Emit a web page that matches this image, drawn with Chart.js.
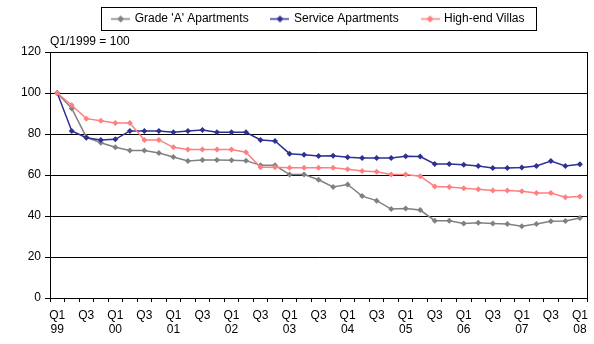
<!DOCTYPE html>
<html>
<head>
<meta charset="utf-8">
<script src="https://cdn.jsdelivr.net/npm/chart.js@4"></script>
<style>
  body { margin: 0; background: #fff; }
  #wrap { width: 594px; height: 344px; }
</style>
</head>
<body>
<div id="wrap"><canvas id="chart" width="594" height="344"></canvas></div>
<script>
const quarters = [
  'Q1 99', 'Q2 99', 'Q3 99', 'Q4 99',
  'Q1 00', 'Q2 00', 'Q3 00', 'Q4 00',
  'Q1 01', 'Q2 01', 'Q3 01', 'Q4 01',
  'Q1 02', 'Q2 02', 'Q3 02', 'Q4 02',
  'Q1 03', 'Q2 03', 'Q3 03', 'Q4 03',
  'Q1 04', 'Q2 04', 'Q3 04', 'Q4 04',
  'Q1 05', 'Q2 05', 'Q3 05', 'Q4 05',
  'Q1 06', 'Q2 06', 'Q3 06', 'Q4 06',
  'Q1 07', 'Q2 07', 'Q3 07', 'Q4 07',
  'Q1 08'
];
const gradeA = [100, 92.5, 78.5, 75.7, 73.5, 72.0, 72.0, 70.7, 68.8, 66.8, 67.3, 67.3, 67.2,
  67.0, 64.7, 64.7, 60.2, 60.2, 57.7, 54.2, 55.4, 49.7, 47.5, 43.4, 43.7, 42.9,
  37.7, 37.7, 36.3, 36.7, 36.3, 36.1, 35.0, 36.1, 37.4, 37.6, 39.0];
const serviceApts = [100, 81.5, 78.2, 77.1, 77.4, 81.5, 81.5, 81.5, 80.8, 81.5, 82.0, 80.8, 80.8,
  80.8, 77.1, 76.6, 70.4, 69.9, 69.3, 69.4, 68.6, 68.3, 68.3, 68.3, 69.2, 69.0,
  65.4, 65.4, 65.0, 64.4, 63.4, 63.4, 63.7, 64.4, 66.8, 64.4, 65.2];
const villas = [100, 94.0, 87.5, 86.5, 85.4, 85.4, 77.1, 77.1, 73.5, 72.4, 72.4, 72.4, 72.4,
  71.1, 63.8, 63.8, 63.5, 63.5, 63.5, 63.5, 62.8, 61.9, 61.6, 60.2, 60.3, 59.4,
  54.4, 54.1, 53.5, 53.0, 52.4, 52.4, 52.1, 51.2, 51.2, 49.2, 49.5];
const seriesNames = ["Grade 'A' Apartments", 'Service Apartments', 'High-end Villas'];
const seriesColors = ['#808080', '#2E3192', '#FF7F7F'];
const yTicks = [0, 20, 40, 60, 80, 100, 120];

Chart.defaults.font.family = 'Arial, "Liberation Sans", sans-serif';
Chart.defaults.font.size = 12;
Chart.defaults.color = '#000';

// legend marker: short line with a diamond in the middle
function legendMark(color) {
  const c = document.createElement('canvas');
  c.width = 19; c.height = 9;
  const g = c.getContext('2d');
  g.strokeStyle = color;
  g.lineWidth = 1.5;
  g.beginPath(); g.moveTo(0, 4.5); g.lineTo(19, 4.5); g.stroke();
  g.fillStyle = color;
  g.beginPath(); g.moveTo(9.5, 1); g.lineTo(13, 4.5); g.lineTo(9.5, 8); g.lineTo(6, 4.5); g.closePath(); g.fill();
  return c;
}

const frame = {
  id: 'frame',
  afterDraw(chart) {
    const ctx = chart.ctx, a = chart.chartArea;
    ctx.save();
    ctx.strokeStyle = '#000';
    ctx.lineWidth = 1;
    ctx.beginPath();
    ctx.moveTo(Math.round(a.right) + 0.5, a.top);
    ctx.lineTo(Math.round(a.right) + 0.5, a.bottom);
    ctx.stroke();
    // box round the legend
    const boxes = chart.legend.legendHitBoxes;
    if (boxes && boxes.length) {
      const l = Math.min(...boxes.map(b => b.left)) - 12;
      const r = Math.max(...boxes.map(b => b.left + b.width)) + 11;
      const t = boxes[0].top - 6, h = boxes[0].height + 11;
      ctx.strokeRect(Math.round(l) + 0.5, Math.round(t) + 0.5, Math.round(r - l), h);
    }
    ctx.restore();
  }
};

const ds = [gradeA, serviceApts, villas].map((d, i) => ({
  label: seriesNames[i],
  data: d,
  borderColor: seriesColors[i],
  backgroundColor: seriesColors[i],
  borderWidth: 1.5,
  pointStyle: 'rectRot',
  pointRadius: 3,
  pointBorderWidth: 0,
  tension: 0,
  order: 3 - i
}));

new Chart(document.getElementById('chart'), {
  type: 'line',
  data: { labels: quarters, datasets: ds },
  options: {
    responsive: false,
    animation: false,
    layout: { padding: { top: 3, right: 2, left: 0, bottom: 0 } },
    plugins: {
      legend: {
        position: 'top',
        fullSize: false,
        labels: {
          usePointStyle: true,
          pointStyleWidth: 16,
          padding: 10,
          generateLabels(chart) {
            const n = chart.data.datasets.length;
            return chart.data.datasets.map((d, i) => ({
              // trailing spaces widen the gap between items
              text: i < n - 1 ? d.label + '    ' : d.label,
              pointStyle: legendMark(seriesColors[i]),
              fillStyle: seriesColors[i],
              strokeStyle: seriesColors[i],
              lineWidth: 0,
              datasetIndex: i,
              hidden: false
            }));
          }
        }
      },
      title: {
        display: true,
        text: 'Q1/1999 = 100',
        align: 'start',
        fullSize: false,
        weight: 500,
        font: { size: 12, weight: 'normal', lineHeight: 1 },
        padding: { top: 1, bottom: 4 }
      },
      tooltip: { enabled: false }
    },
    scales: {
      x: {
        offset: true,
        afterFit(s) { s.height = 46; },
        grid: { offset: true, drawOnChartArea: false, tickLength: 4, color: '#000' },
        border: { color: '#000' },
        ticks: {
          autoSkip: false,
          maxRotation: 0,
          padding: 6,
          callback(v, i) {
            if (i % 2) return '';
            const p = quarters[i].split(' ');
            return p[0] === 'Q1' ? p : p[0];
          }
        }
      },
      y: {
        min: 0,
        max: 120,
        afterFit(s) { s.width = 50; },
        afterBuildTicks(s) { s.ticks = yTicks.map(v => ({ value: v })); },
        grid: { color: '#000', tickLength: 5 },
        border: { color: '#000' },
        ticks: { padding: 4 }
      }
    }
  },
  plugins: [frame]
});
</script>
</body>
</html>
